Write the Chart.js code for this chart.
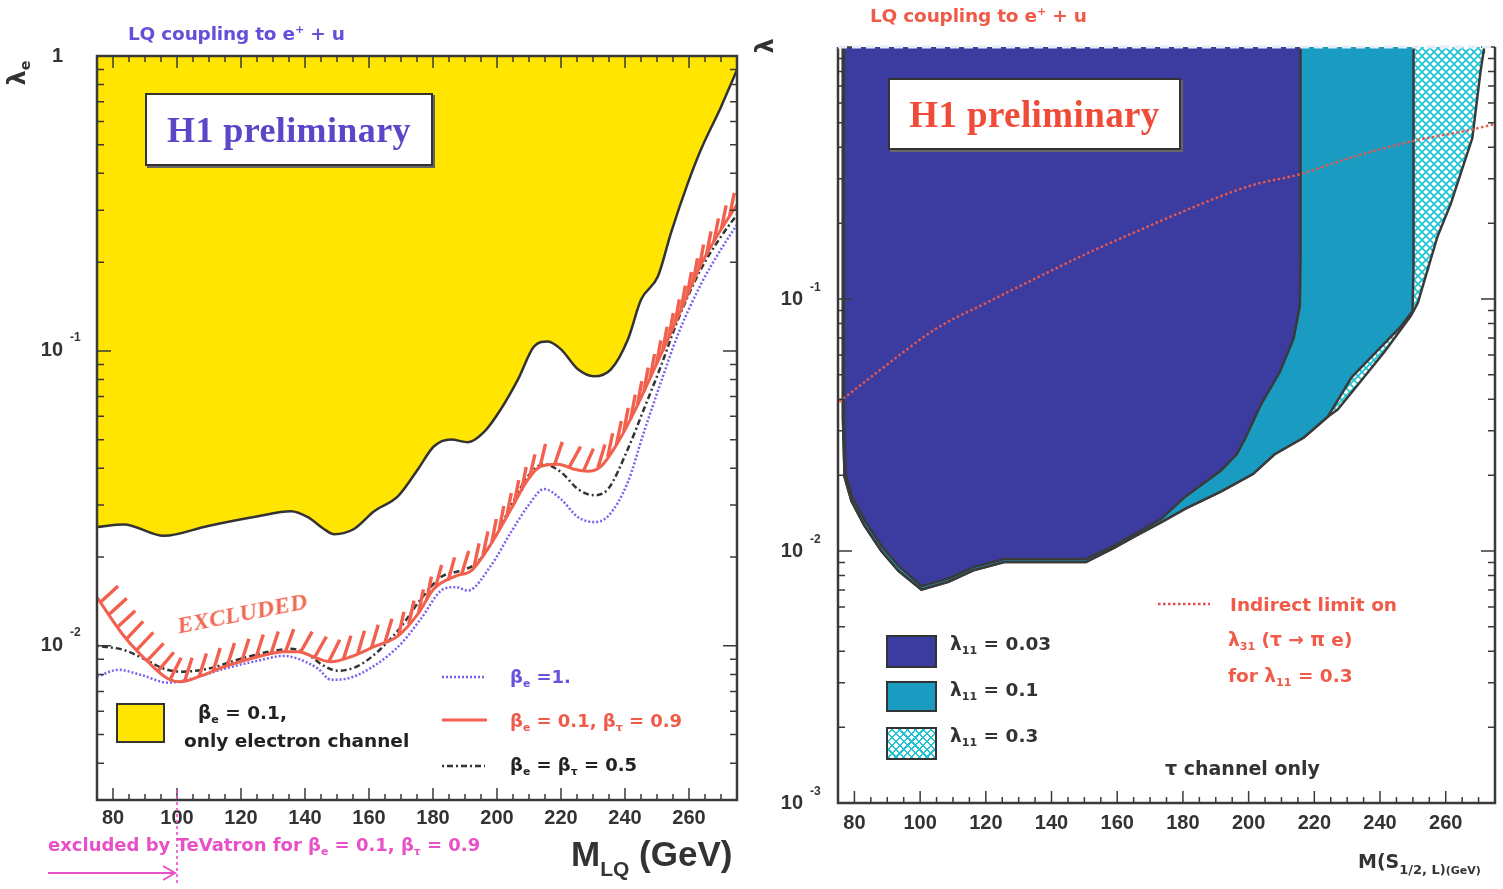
<!DOCTYPE html>
<html><head><meta charset="utf-8">
<script src="https://cdn.jsdelivr.net/npm/chart.js@4.4.1/dist/chart.umd.min.js"></script>
<style>
html,body{margin:0;padding:0;background:#fff;}
body{width:1503px;height:889px;overflow:hidden;position:relative;font-family:"DejaVu Sans","Liberation Sans",Arial,sans-serif;}
canvas{position:absolute;top:0;}
#cL{left:0;} #cR{left:750px;}
.t{position:absolute;white-space:nowrap;font-weight:700;line-height:1;font-family:"DejaVu Sans",sans-serif;}
.sb{font-size:0.6em;vertical-align:-0.35em;}
.sp{font-size:0.6em;vertical-align:0.6em;}
.box{position:absolute;box-sizing:border-box;background:#fff;border:2px solid #333;box-shadow:2px 2px 0 #666;display:flex;align-items:center;justify-content:center;font-family:"Liberation Serif","Times New Roman",serif;font-weight:700;font-size:36px;letter-spacing:0.4px;}
.sw{position:absolute;box-sizing:border-box;border:2.5px solid #333;}
svg.ov{position:absolute;left:0;top:0;overflow:visible;}
</style></head><body>
<canvas id="cL" width="750" height="889"></canvas>
<canvas id="cR" width="753" height="889"></canvas>

<!-- left panel annotations -->
<div class="t" style="left:128px;top:24px;font-size:18.5px;color:#6650d8;letter-spacing:-0.2px;">LQ coupling to e<span class="sp">+</span> + u</div>
<div class="t" style="left:-4px;top:60px;width:44px;height:26px;text-align:center;font-size:24px;color:#333;transform:rotate(-90deg);">λ<span class="sb">e</span></div>
<div class="box" style="left:145px;top:93px;width:288px;height:73px;color:#5a46c8;">H1 preliminary</div>
<div class="t" style="left:176px;top:601px;font-family:'Liberation Serif',serif;font-style:italic;font-size:24px;color:#f06a55;transform:rotate(-11deg);letter-spacing:0.2px;">EXCLUDED</div>
<div class="sw" style="left:116px;top:703px;width:49px;height:40px;background:#ffe500;"></div>
<div class="t" style="left:198px;top:704px;font-size:18.5px;color:#222;">β<span class="sb">e</span> = 0.1,</div>
<div class="t" style="left:184px;top:732px;font-size:18.5px;color:#222;">only electron channel</div>
<div class="t" style="left:510px;top:668px;font-size:18px;color:#6a4fe0;">β<span class="sb">e</span> =1.</div>
<div class="t" style="left:510px;top:712px;font-size:18px;color:#f05a48;">β<span class="sb">e</span> = 0.1, β<span class="sb">τ</span> = 0.9</div>
<div class="t" style="left:510px;top:756px;font-size:18px;color:#222;">β<span class="sb">e</span> = β<span class="sb">τ</span> = 0.5</div>
<div class="t" style="left:48px;top:836px;font-size:18px;color:#e850c8;">excluded by TeVatron for β<span class="sb">e</span> = 0.1, β<span class="sb">τ</span> = 0.9</div>
<div class="t" style="left:571px;top:836px;font-size:35px;color:#333;font-family:'Liberation Sans',Arial,sans-serif;">M<span style="font-size:21px;vertical-align:-10px;">LQ</span> (GeV)</div>

<!-- right panel annotations -->
<div class="t" style="left:870px;top:6px;font-size:18.5px;color:#f05a48;letter-spacing:-0.2px;">LQ coupling to e<span class="sp">+</span> + u</div>
<div class="t" style="left:752px;top:33px;width:28px;height:26px;text-align:center;font-size:24px;color:#333;transform:rotate(-90deg);">λ</div>
<div class="box" style="left:888px;top:78px;width:293px;height:72px;color:#f04a38;font-size:37px;">H1 preliminary</div>
<div class="sw" style="left:886px;top:635px;width:51px;height:33px;background:#3c3ca0;"></div>
<div class="sw" style="left:886px;top:681px;width:51px;height:31px;background:#1a9cc2;"></div>
<div class="sw" style="left:886px;top:727px;width:51px;height:33px;background:repeating-linear-gradient(45deg,#22c4d4 0 1.6px,transparent 1.6px 5.5px),repeating-linear-gradient(-45deg,#22c4d4 0 1.6px,transparent 1.6px 5.5px),#fff;"></div>
<div class="t" style="left:950px;top:635px;font-size:18.5px;color:#333;">λ<span class="sb">11</span> = 0.03</div>
<div class="t" style="left:950px;top:681px;font-size:18.5px;color:#333;">λ<span class="sb">11</span> = 0.1</div>
<div class="t" style="left:950px;top:727px;font-size:18.5px;color:#333;">λ<span class="sb">11</span> = 0.3</div>
<div class="t" style="left:1230px;top:596px;font-size:18.5px;color:#f05a48;">Indirect limit on</div>
<div class="t" style="left:1228px;top:631px;font-size:18.5px;color:#f05a48;">λ<span class="sb">31</span> (τ → π e)</div>
<div class="t" style="left:1228px;top:667px;font-size:18.5px;color:#f05a48;">for λ<span class="sb">11</span> = 0.3</div>
<div class="t" style="left:1165px;top:759px;font-size:19px;color:#333;">τ channel only</div>
<div class="t" style="left:1358px;top:852px;font-size:19px;color:#333;">M(S<span style="font-size:13px;vertical-align:-6px;">1/2, L)</span><span style="font-size:11px;vertical-align:-6px;">(GeV)</span></div>

<svg class="ov" width="1503" height="889">
  <line x1="442" y1="677" x2="485" y2="677" stroke="#7a60ee" stroke-width="2.5" stroke-dasharray="2 2"/>
  <line x1="442" y1="720" x2="487" y2="720" stroke="#f2604e" stroke-width="3"/>
  <line x1="442" y1="766" x2="485" y2="766" stroke="#333" stroke-width="2.5" stroke-dasharray="2 3 6 3"/>
  <line x1="1158" y1="604" x2="1210" y2="604" stroke="#e05050" stroke-width="2.4" stroke-dasharray="2.5 2.5"/>
</svg>

<script>
// ---------------- data: left panel (M_LQ in GeV, lambda_e) ----------------
const xTickValues = [80, 100, 120, 140, 160, 180, 200, 220, 240, 260];
const leftYTicks = [0.01, 0.1, 1];
const rightYTicks = [0.001, 0.01, 0.1];
const tevatronMass = 100;

const yellowMass = [75, 83.4, 95.9, 109.7, 125.3, 135.6, 140.9, 145.9, 149.1, 155.3, 161.6, 169.1, 175.3, 180.3, 185.6, 190.9, 195.9, 201.2, 206.6, 211.6, 215.9, 220.0, 225.3, 230.3, 235.6, 240.9, 245.0, 250.3, 254.4, 259.7, 263.7, 270.0, 275];
const yellowLambda = [0.0253, 0.0258, 0.0236, 0.0255, 0.0275, 0.0286, 0.0273, 0.0249, 0.0239, 0.0249, 0.0286, 0.0322, 0.0397, 0.0475, 0.0501, 0.0490, 0.0530, 0.0634, 0.0802, 0.1036, 0.1077, 0.1012, 0.0866, 0.0820, 0.0866, 0.1094, 0.149, 0.179, 0.252, 0.372, 0.481, 0.672, 0.897];

const redMass = [75, 83.4, 90.9, 97.2, 101.2, 107.5, 114.7, 125.3, 133.4, 137.8, 144.1, 148.1, 154.4, 161.6, 169.1, 175.3, 180.3, 187.2, 191.9, 198.1, 204.4, 209.7, 213.7, 219.1, 224.1, 228.4, 232.5, 237.8, 242.8, 248.1, 253.4, 257.5, 263.7, 270.0, 275];
const redLambda = [0.0146, 0.0108, 0.00883, 0.00773, 0.00755, 0.00791, 0.00849, 0.00918, 0.00955, 0.00955, 0.00904, 0.00883, 0.00918, 0.00993, 0.01081, 0.01283, 0.0156, 0.01726, 0.01795, 0.02214, 0.0291, 0.0367, 0.0406, 0.0413, 0.0397, 0.0391, 0.0406, 0.0490, 0.0619, 0.0820, 0.1094, 0.138, 0.196, 0.258, 0.313];

const blackMass = [75, 83.4, 90.9, 95.9, 101.2, 109.7, 120.0, 130.3, 135.6, 140.9, 145.9, 150.3, 156.6, 163.7, 170.0, 176.2, 182.5, 188.7, 193.4, 198.1, 204.4, 209.7, 214.7, 220.0, 225.3, 230.3, 234.7, 240.9, 245.9, 251.2, 256.6, 263.7, 270.0, 275];
const blackLambda = [0.0100, 0.00968, 0.00890, 0.00836, 0.00817, 0.00836, 0.00904, 0.00962, 0.00977, 0.00933, 0.00855, 0.00823, 0.00855, 0.00977, 0.0116, 0.0144, 0.0171, 0.0180, 0.0190, 0.0221, 0.0298, 0.0376, 0.0413, 0.0388, 0.0340, 0.0324, 0.0340, 0.0465, 0.0634, 0.0887, 0.128, 0.189, 0.244, 0.290];

const purpleMass = [75, 81.6, 88.7, 97.2, 104.4, 114.7, 125.3, 133.4, 137.8, 144.1, 148.1, 152.8, 161.6, 170.0, 176.2, 183.4, 187.2, 190.9, 198.1, 204.4, 209.7, 214.7, 220.0, 225.3, 230.3, 234.7, 240.9, 245.9, 251.2, 256.6, 263.7, 270.0, 275];
const purpleLambda = [0.00785, 0.00829, 0.00797, 0.00750, 0.00773, 0.00836, 0.00890, 0.00924, 0.00904, 0.00836, 0.00767, 0.00773, 0.00855, 0.01016, 0.01234, 0.0156, 0.0158, 0.0154, 0.0187, 0.0243, 0.0298, 0.0340, 0.0314, 0.0273, 0.0263, 0.0275, 0.0359, 0.0530, 0.0782, 0.114, 0.168, 0.221, 0.268];

// ---------------- data: right panel (M(S1/2,L) in GeV, lambda) ----------------
const darkMass = [76.8, 76.8, 77.3, 79.4, 83.3, 88.4, 93.5, 100.4, 108.6, 116.5, 125.6, 150.5, 159.0, 166.0, 173.3, 180.9, 191.5, 196.4, 199.1, 203.7, 209.5, 213.7, 215.6, 215.8, 215.8];
const darkLambda = [1, 0.0338, 0.0202, 0.0163, 0.0131, 0.0104, 0.0087, 0.00725, 0.00778, 0.00865, 0.0093, 0.0093, 0.0105, 0.0118, 0.0134, 0.0165, 0.0208, 0.0242, 0.0282, 0.038, 0.0513, 0.0697, 0.094, 0.15, 1];

const cyanMass = [76.5, 76.5, 77.0, 79.1, 83.0, 88.2, 93.4, 100.4, 108.6, 116.5, 125.6, 150.5, 159.0, 166.0, 173.3, 180.9, 191.5, 201.3, 207.9, 216.8, 224.1, 231.4, 238.7, 246.0, 249.9, 250.2, 250.2];
const cyanLambda = [1, 0.0338, 0.0197, 0.0158, 0.01264, 0.0100, 0.00835, 0.00703, 0.00755, 0.00841, 0.00905, 0.00905, 0.01028, 0.01156, 0.0130, 0.01476, 0.0172, 0.0202, 0.0242, 0.0282, 0.0341, 0.049, 0.0614, 0.0769, 0.0897, 0.135, 1];

const hatchMass = [76.5, 76.5, 77.0, 79.1, 83.0, 88.2, 93.4, 100.4, 108.6, 116.5, 125.6, 150.5, 159.0, 166.0, 173.3, 180.9, 191.5, 201.3, 207.9, 216.8, 224.1, 227.1, 233.2, 241.2, 249.4, 251.5, 257.5, 261.5, 268.1, 270.6, 271.5, 271.6];
const hatchLambda = [1, 0.0338, 0.0197, 0.0158, 0.01264, 0.0100, 0.00835, 0.00703, 0.00755, 0.00841, 0.00905, 0.00905, 0.01028, 0.01156, 0.0130, 0.01476, 0.0172, 0.0202, 0.0242, 0.0282, 0.0341, 0.0364, 0.0456, 0.0614, 0.0858, 0.0965, 0.177, 0.238, 0.435, 0.80, 0.955, 1];

const indirectMass = [75.4, 89.7, 104.9, 120.1, 135.3, 150.5, 165.7, 185.5, 200.7, 215.3, 231.1, 250.2, 267.5, 275];
const indirectLambda = [0.0391, 0.0546, 0.0763, 0.0965, 0.121, 0.151, 0.185, 0.238, 0.282, 0.312, 0.364, 0.424, 0.469, 0.495];

// ---------------- helpers ----------------
const pts = (xs, ys) => xs.map((x, i) => ({x, y: ys[i]}));
Chart.defaults.font.family = '"Liberation Sans", Arial, sans-serif';

function makeScales(o) {
  return {
    x: {
      type: 'linear', min: 75, max: 275,
      afterFit(s) { s.height = o.xh; },
      afterBuildTicks(s) { s.ticks = xTickValues.map(v => ({value: v})); },
      grid: {display: false, drawTicks: false}, border: {display: false},
      ticks: {padding: o.xpad, autoSkip: false, maxRotation: 0, color: '#333',
        font: {size: 20, weight: 'bold'}, callback: v => String(v)}
    },
    y: {
      type: 'logarithmic', min: o.ymin, max: 1,
      afterFit(s) { s.width = o.yw; },
      afterBuildTicks(s) { s.ticks = o.yt.map(v => ({value: v})); },
      grid: {display: false, drawTicks: false}, border: {display: false},
      ticks: {padding: o.ypad, autoSkip: false, color: '#333',
        font: {size: 20, weight: 'bold'}, callback: v => (v === 1 ? '1' : '10')}
    }
  };
}

function axisPlugin(o) {
  return {
    id: 'axisDecor' + o.name,
    afterDatasetsDraw(chart) {
      const {ctx, chartArea: a, scales: {x, y}} = chart;
      ctx.save();
      ctx.lineWidth = 1.5;
      ctx.strokeStyle = '#3a3a3a';
      ctx.beginPath();
      for (let v = 75; v <= 275; v += 5) {
        const px = x.getPixelForValue(v);
        const L = v % 20 === 0 ? 12 : 6;
        ctx.moveTo(px, a.bottom); ctx.lineTo(px, a.bottom - L);
        if (!o.lightTop) { ctx.moveTo(px, a.top); ctx.lineTo(px, a.top + L); }
      }
      for (let e = -4; e <= 0; e++) {
        for (let k = 1; k <= 9; k++) {
          const v = k * Math.pow(10, e);
          if (v < y.min * 0.999 || v > y.max * 1.001) continue;
          const py = y.getPixelForValue(v);
          const L = k === 1 ? 14 : 7;
          ctx.moveTo(a.left, py); ctx.lineTo(a.left + L, py);
          ctx.moveTo(a.right, py); ctx.lineTo(a.right - L, py);
        }
      }
      ctx.stroke();
      // frame
      ctx.lineWidth = 2.5;
      ctx.strokeStyle = '#3a3a3a';
      ctx.beginPath();
      if (o.lightTop) {
        ctx.moveTo(a.left, a.top); ctx.lineTo(a.left, a.bottom); ctx.lineTo(a.right, a.bottom); ctx.lineTo(a.right, a.top);
        ctx.stroke();
        ctx.strokeStyle = '#e6ecf4'; ctx.lineWidth = 3; ctx.setLineDash([9, 5]);
        ctx.beginPath(); ctx.moveTo(a.left, a.top); ctx.lineTo(a.right, a.top); ctx.stroke();
        ctx.setLineDash([]);
      } else {
        ctx.rect(a.left, a.top, a.right - a.left, a.bottom - a.top);
        ctx.stroke();
      }
      // exponents of y tick labels
      ctx.fillStyle = '#333';
      ctx.font = 'bold 12px "Liberation Sans", Arial, sans-serif';
      ctx.textAlign = 'left'; ctx.textBaseline = 'middle';
      o.yt.forEach(v => {
        if (v === 1) return;
        const py = y.getPixelForValue(v);
        ctx.fillText(String(Math.round(Math.log10(v))), a.left - o.expDx, py - o.expDy);
      });
      if (o.extra) o.extra(chart);
      ctx.restore();
    }
  };
}

// hatch strokes on the excluded side of the red limit curve
const hatchStrokes = {
  id: 'hatchStrokes',
  afterDatasetsDraw(chart) {
    const meta = chart.getDatasetMeta(0);
    const p = meta.data.map(e => ({x: e.x, y: e.y}));
    const {ctx, chartArea: a} = chart;
    ctx.save();
    ctx.beginPath(); ctx.rect(a.left, a.top, a.right - a.left, a.bottom - a.top); ctx.clip();
    ctx.strokeStyle = '#f2604e'; ctx.lineWidth = 3.4; ctx.lineCap = 'butt';
    const spacing = 15, len = 24;
    let carry = 6;
    ctx.beginPath();
    for (let i = 0; i < p.length - 1; i++) {
      const dx = p[i + 1].x - p[i].x, dy = p[i + 1].y - p[i].y;
      const seg = Math.hypot(dx, dy);
      const t = Math.atan2(-dy, dx) * 180 / Math.PI;
      const ang = (70 + (t < 0 ? 0.5 * t : 0.15 * t)) * Math.PI / 180;
      let d = carry;
      while (d <= seg) {
        const sx = p[i].x + dx * d / seg, sy = p[i].y + dy * d / seg;
        ctx.moveTo(sx, sy);
        ctx.lineTo(sx + Math.cos(ang) * len, sy - Math.sin(ang) * len);
        d += spacing;
      }
      carry = d - seg;
    }
    ctx.stroke();
    ctx.restore();
  }
};

// ---------------- left chart ----------------
new Chart(document.getElementById('cL'), {
  type: 'line',
  data: {
    datasets: [
      {label: 'βe = 0.1, βτ = 0.9', data: pts(redMass, redLambda), borderColor: '#f2604e', borderWidth: 3, fill: false, cubicInterpolationMode: 'monotone'},
      {label: 'βe = βτ = 0.5', data: pts(blackMass, blackLambda), borderColor: '#333', borderWidth: 2.5, borderDash: [2, 3, 6, 3], fill: false, cubicInterpolationMode: 'monotone'},
      {label: 'βe = 1.', data: pts(purpleMass, purpleLambda), borderColor: '#7a60ee', borderWidth: 2.5, borderDash: [2, 2], fill: false, cubicInterpolationMode: 'monotone'},
      {label: 'βe = 0.1, only electron channel', data: pts(yellowMass, yellowLambda), borderColor: '#333', borderWidth: 2.5, backgroundColor: '#ffe500', fill: 'end', cubicInterpolationMode: 'monotone'}
    ]
  },
  options: {
    responsive: false, animation: false, devicePixelRatio: 1, events: [],
    elements: {point: {radius: 0}},
    layout: {padding: {left: 0, top: 56, right: 13, bottom: 0}},
    plugins: {legend: {display: false}, tooltip: {enabled: false}},
    scales: makeScales({xh: 89, xpad: 6, yw: 97, ypad: 34, ymin: 0.003, yt: leftYTicks})
  },
  plugins: [hatchStrokes, axisPlugin({name: 'L', yt: leftYTicks, expDx: 27, expDy: 13, extra(chart) {
    const {ctx, scales: {x}} = chart;
    const px = x.getPixelForValue(tevatronMass);
    ctx.strokeStyle = '#e850c8'; ctx.lineWidth = 1.6; ctx.setLineDash([3, 3]);
    ctx.beginPath(); ctx.moveTo(px, 790); ctx.lineTo(px, 885); ctx.stroke();
    ctx.setLineDash([]);
    ctx.lineWidth = 2;
    ctx.beginPath(); ctx.moveTo(48, 873); ctx.lineTo(px - 2, 873);
    ctx.moveTo(px - 14, 866); ctx.lineTo(px - 2, 873); ctx.lineTo(px - 14, 880); ctx.stroke();
  }})]
});

// ---------------- right chart ----------------
function makeCrossHatch() {
  const c = document.createElement('canvas'); c.width = c.height = 8;
  const g = c.getContext('2d');
  g.fillStyle = '#ffffff'; g.fillRect(0, 0, 8, 8);
  g.strokeStyle = '#22c4d4'; g.lineWidth = 1.8;
  g.beginPath(); g.moveTo(0, 0); g.lineTo(8, 8); g.moveTo(8, 0); g.lineTo(0, 8); g.stroke();
  return g.createPattern(c, 'repeat');
}

new Chart(document.getElementById('cR'), {
  type: 'line',
  data: {
    datasets: [
      {label: 'Indirect limit on λ31 (τ → π e) for λ11 = 0.3', data: pts(indirectMass, indirectLambda), borderColor: '#e8584e', borderWidth: 2.4, borderDash: [2.5, 2.5], fill: false, cubicInterpolationMode: 'monotone'},
      {label: 'λ11 = 0.03', data: pts(darkMass, darkLambda), borderColor: '#3a3a3a', borderWidth: 2.5, backgroundColor: '#3c3ca0', fill: 'shape', tension: 0},
      {label: 'λ11 = 0.1', data: pts(cyanMass, cyanLambda), borderColor: '#3a3a3a', borderWidth: 2.5, backgroundColor: '#1a9cc2', fill: 'shape', tension: 0},
      {label: 'λ11 = 0.3', data: pts(hatchMass, hatchLambda), borderColor: '#3a3a3a', borderWidth: 2.5, backgroundColor: makeCrossHatch(), fill: 'shape', tension: 0}
    ]
  },
  options: {
    responsive: false, animation: false, devicePixelRatio: 1, events: [],
    elements: {point: {radius: 0}},
    layout: {padding: {left: 0, top: 39, right: 8, bottom: 0}},
    plugins: {legend: {display: false}, tooltip: {enabled: false}},
    scales: makeScales({xh: 86, xpad: 8, yw: 88, ypad: 35, ymin: 0.001, yt: rightYTicks})
  },
  plugins: [axisPlugin({name: 'R', yt: rightYTicks, expDx: 28, expDy: 11, lightTop: true})]
});
</script>
</body></html>
